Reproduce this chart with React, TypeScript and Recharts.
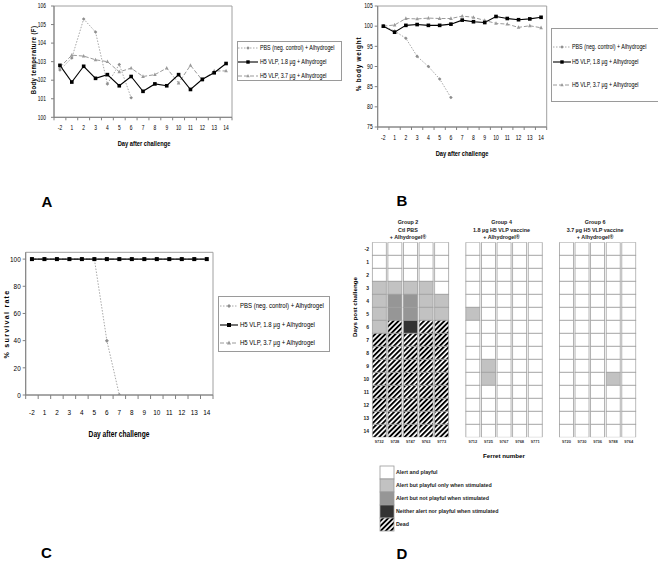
import { LineChart, Line, XAxis, YAxis, ReferenceArea, ScatterChart, Scatter } from "recharts"

const FONT = '"Liberation Sans", Arial, sans-serif'

// shared x categories
const days = ["-2", "1", "2", "3", "4", "5", "6", "7", "8", "9", "10", "11", "12", "13", "14"]

// A: body temperature (F)
const pbsTemperature = [102.55, 103.2, 105.3, 104.6, 101.8, 102.85, 101.05, null, null, null, null, null, null, null, null]
const lowDoseTemperature = [102.8, 101.9, 102.75, 102.1, 102.3, 101.7, 102.2, 101.4, 101.8, 101.7, 102.3, 101.5, 102.05, 102.4, 102.9]
const highDoseTemperature = [102.7, 103.35, 103.3, 103.1, 103.0, 102.45, 102.65, 102.2, 102.3, 102.65, 101.85, 102.8, 102.0, 102.5, 102.5]
const temperatureTicks = [100, 101, 102, 103, 104, 105, 106]

// B: % body weight
const pbsWeight = [100, 98.8, 97.0, 92.5, 90.0, 86.9, 82.3, null, null, null, null, null, null, null, null]
const lowDoseWeight = [100, 98.5, 100.2, 100.4, 100.2, 100.2, 100.5, 101.5, 101.1, 100.9, 102.4, 101.9, 101.6, 101.8, 102.2]
const highDoseWeight = [100, 100.3, 101.9, 101.8, 102.0, 101.9, 101.9, 102.5, 102.2, 101.4, 100.7, 100.5, 99.7, 100.1, 99.6]
const weightTicks = [75, 80, 85, 90, 95, 100, 105]

// C: % survival
const pbsSurvival = [100, 100, 100, 100, 100, 100, 40, 0, null, null, null, null, null, null, null]
const lowDoseSurvival = [100, 100, 100, 100, 100, 100, 100, 100, 100, 100, 100, 100, 100, 100, 100]
const highDoseSurvival = [100, 100, 100, 100, 100, 100, 100, 100, 100, 100, 100, 100, 100, 100, 100]
const survivalTicks = [0, 20, 40, 60, 80, 100]

// D: clinical score per ferret and day (0 alert/playful .. 3 neither, 4 dead)
const groupNames = ["Group 2", "Group 4", "Group 6"]
const groupTreatments = ["Ctl PBS", "1.8 µg H5 VLP vaccine", "3.7 µg H5 VLP vaccine"]
const group2Ferrets = ["9732", "9728", "9747", "9763", "9773"]
const group4Ferrets = ["9712", "9725", "9767", "9768", "9771"]
const group6Ferrets = ["9720", "9730", "9736", "9788", "9764"]
const group2Scores = [
  [0, 0, 0, 1, 1, 1, 1, 4, 4, 4, 4, 4, 4, 4, 4],
  [0, 0, 0, 1, 2, 2, 4, 4, 4, 4, 4, 4, 4, 4, 4],
  [0, 0, 0, 1, 2, 2, 3, 4, 4, 4, 4, 4, 4, 4, 4],
  [0, 0, 0, 1, 1, 1, 4, 4, 4, 4, 4, 4, 4, 4, 4],
  [0, 0, 0, 0, 1, 1, 4, 4, 4, 4, 4, 4, 4, 4, 4],
]
const group4Scores = [
  [0, 0, 0, 0, 0, 1, 0, 0, 0, 0, 0, 0, 0, 0, 0],
  [0, 0, 0, 0, 0, 0, 0, 0, 0, 1, 1, 0, 0, 0, 0],
  [0, 0, 0, 0, 0, 0, 0, 0, 0, 0, 0, 0, 0, 0, 0],
  [0, 0, 0, 0, 0, 0, 0, 0, 0, 0, 0, 0, 0, 0, 0],
  [0, 0, 0, 0, 0, 0, 0, 0, 0, 0, 0, 0, 0, 0, 0],
]
const group6Scores = [
  [0, 0, 0, 0, 0, 0, 0, 0, 0, 0, 0, 0, 0, 0, 0],
  [0, 0, 0, 0, 0, 0, 0, 0, 0, 0, 0, 0, 0, 0, 0],
  [0, 0, 0, 0, 0, 0, 0, 0, 0, 0, 0, 0, 0, 0, 0],
  [0, 0, 0, 0, 0, 0, 0, 0, 0, 0, 1, 0, 0, 0, 0],
  [0, 0, 0, 0, 0, 0, 0, 0, 0, 0, 0, 0, 0, 0, 0],
]
const scoreLabels = [
  "Alert and playful",
  "Alert but playful only when stimulated",
  "Alert but not playful when stimulated",
  "Neither alert nor playful when stimulated",
  "Dead",
]
const scoreFills = ["#ffffff", "#c2c2c2", "#969696", "#333333", "url(#deadHatch)"]

const seriesStyles = [
  { key: "pbs", name: "PBS (neg. control) + Alhydrogel", stroke: "#a8a8a8", dash: "1.5 1.5", width: 1, marker: "diamond", fill: "#8e8e8e" },
  { key: "low", name: "H5 VLP, 1.8 µg + Alhydrogel", stroke: "#000000", dash: undefined, width: 1.1, marker: "square", fill: "#000000" },
  { key: "high", name: "H5 VLP, 3.7 µg + Alhydrogel", stroke: "#9a9a9a", dash: "4 2", width: 1, marker: "triangle", fill: "#9a9a9a" },
]
const drawOrder = [0, 2, 1]

const makeRows = (pbs: (number | null)[], low: number[], high: number[]) =>
  days.map((day, i) => ({ i, day, pbs: pbs[i], low: low[i], high: high[i] }))

const temperatureRows = makeRows(pbsTemperature, lowDoseTemperature, highDoseTemperature)
const weightRows = makeRows(pbsWeight, lowDoseWeight, highDoseWeight)
const survivalRows = makeRows(pbsSurvival, lowDoseSurvival, highDoseSurvival)

// integer ticks carry labels, half ticks carry the between-category marks
const dayAxisTicks = [-0.5, ...days.flatMap((_, i) => [i, i + 0.5])]

function markerShape(kind: string, cx: number, cy: number, s: number, fill: string) {
  if (kind === "square") return <rect x={cx - s / 2} y={cy - s / 2} width={s} height={s} fill={fill} />
  if (kind === "triangle")
    return <polygon points={`${cx},${cy - s * 0.6} ${cx - s / 2},${cy + s * 0.4} ${cx + s / 2},${cy + s * 0.4}`} fill={fill} />
  return <polygon points={`${cx},${cy - s / 2} ${cx + s / 2},${cy} ${cx},${cy + s / 2} ${cx - s / 2},${cy}`} fill={fill} />
}

function Label({ x, y, text, size, bold, rotate, spacing, squeeze = 1, color = "#000" }: any) {
  return (
    <div
      style={{
        position: "absolute",
        left: x,
        top: y,
        transform: `translate(-50%, -50%)${rotate ? " rotate(-90deg)" : ""} scaleX(${squeeze})`,
        fontSize: size,
        fontWeight: bold ? 700 : 400,
        letterSpacing: spacing,
        whiteSpace: "nowrap",
        lineHeight: 1,
        color,
      }}
    >
      {text}
    </div>
  )
}

function LinePanel({ rows, left, top, width, height, plot, yDomain, yTicks, fontSize, markerSize, labelGap, yTickMargin, markLength, squeeze }: any) {
  const xAxisHeight = 20
  const margin = {
    top: plot.y0 - top,
    right: left + width - plot.x1,
    left: 0,
    bottom: top + height - plot.y1 - xAxisHeight,
  }
  const dayTick = (p: any) => {
    const v = p.payload.value
    if (!Number.isInteger(v)) {
      return <line key={`m${v}`} x1={p.x} x2={p.x} y1={p.y} y2={p.y + markLength} stroke="#808080" strokeWidth={1} />
    }
    return (
      <text
        key={`t${v}`}
        x={0}
        y={0}
        transform={`translate(${p.x},${p.y + labelGap}) scale(${squeeze},1)`}
        textAnchor="middle"
        dominantBaseline="central"
        fontSize={fontSize}
        fill="#000"
      >
        {days[v]}
      </text>
    )
  }
  const valueTick = (p: any) => (
    <text
      key={`v${p.payload.value}`}
      x={0}
      y={0}
      transform={`translate(${p.x},${p.y}) scale(${squeeze},1)`}
      textAnchor="end"
      dominantBaseline="central"
      fontSize={fontSize}
      fill="#000"
    >
      {p.payload.value}
    </text>
  )
  return (
    <div style={{ position: "absolute", left, top, width, height }}>
      <LineChart width={width} height={height} data={rows} margin={margin}>
        <ReferenceArea x1={-0.5} x2={14.5} y1={yDomain[0]} y2={yDomain[1]} fill="#fff" fillOpacity={0} stroke="#a0a0a0" strokeWidth={1} />
        <XAxis
          type="number"
          dataKey="i"
          domain={[-0.5, 14.5]}
          ticks={dayAxisTicks}
          interval={0}
          height={xAxisHeight}
          axisLine={{ stroke: "#808080" }}
          tickLine={false}
          tickSize={0}
          tickMargin={0}
          tick={dayTick}
          allowDataOverflow
        />
        <YAxis
          type="number"
          domain={yDomain}
          ticks={yTicks}
          interval={0}
          width={plot.x0 - left}
          axisLine={{ stroke: "#808080" }}
          tickLine={{ stroke: "#808080" }}
          tickSize={3}
          tickMargin={yTickMargin}
          tick={valueTick}
          allowDataOverflow
        />
        {drawOrder.map((k) => {
          const s = seriesStyles[k]
          return (
            <Line
              key={s.key}
              dataKey={s.key}
              stroke={s.stroke}
              strokeWidth={s.width}
              strokeDasharray={s.dash}
              isAnimationActive={false}
              dot={(p: any) => (
                <g key={`${s.key}-${p.index}`}>
                  {p.cx == null || p.cy == null || p.payload[s.key] == null ? null : markerShape(s.marker, p.cx, p.cy, markerSize, s.fill)}
                </g>
              )}
              activeDot={false}
            />
          )
        })}
      </LineChart>
    </div>
  )
}

function SeriesLegend({ left, top, width, height, rowYs, fontSize, sampleX0, sampleX1, textX, markerSize, squeeze }: any) {
  const w = sampleX1 - sampleX0
  return (
    <>
      <div style={{ position: "absolute", left, top, width, height, border: "1px solid #9a9a9a", boxSizing: "border-box", background: "#fff" }} />
      {seriesStyles.map((s, k) => (
        <div key={s.key}>
          <svg style={{ position: "absolute", left: sampleX0, top: rowYs[k] - 5 }} width={w} height={10}>
            <line x1={0} x2={w} y1={5} y2={5} stroke={s.stroke} strokeDasharray={s.dash} strokeWidth={s.width} />
            {markerShape(s.marker, w / 2, 5, markerSize, s.fill)}
          </svg>
          <span
            style={{
              position: "absolute",
              left: textX,
              top: rowYs[k],
              transform: `translateY(-50%) scaleX(${squeeze})`,
              transformOrigin: "left center",
              fontSize,
              lineHeight: 1,
              whiteSpace: "nowrap",
            }}
          >
            {s.name}
          </span>
        </div>
      ))}
    </>
  )
}

const groups = [
  { ferrets: group2Ferrets, scores: group2Scores },
  { ferrets: group4Ferrets, scores: group4Scores },
  { ferrets: group6Ferrets, scores: group6Scores },
]
const ferretSlots = groups.flatMap((grp, g) => grp.ferrets.map((id, c) => ({ slot: g * 6 + c, id })))
const heatCells = groups.flatMap((grp, g) =>
  grp.ferrets.flatMap((id, c) => grp.scores[c].map((score, row) => ({ col: g * 6 + c, row, score, id })))
)

function HeatCell(p: any) {
  if (p.cx == null || p.cy == null) return <g />
  return <rect x={p.cx - 7} y={p.cy - 6.5} width={14} height={13} fill={scoreFills[p.payload.score]} stroke="#a0a0a0" strokeWidth={0.8} />
}

const scorePlot = { x0: 371.5, x1: 636.6, y0: 242.3, y1: 437.3 }

function ScorePanel() {
  const left = 340
  const top = 200
  const width = 300
  const height = 262
  const plot = scorePlot
  const bottomAxisHeight = 12
  const margin = { top: plot.y0 - top, right: left + width - plot.x1, left: 0, bottom: top + height - plot.y1 - bottomAxisHeight }
  return (
    <div style={{ position: "absolute", left, top, width, height }}>
      <ScatterChart width={width} height={height} margin={margin}>
        <XAxis
          type="number"
          dataKey="col"
          domain={[-0.5, 16.5]}
          ticks={ferretSlots.map((f) => f.slot)}
          interval={0}
          height={bottomAxisHeight}
          axisLine={false}
          tickLine={false}
          tickSize={0}
          tickMargin={3}
          tickFormatter={(v: number) => ferretSlots.find((f) => f.slot === v)?.id ?? ""}
          tick={{ fontSize: 4, fontWeight: 700, fill: "#333" }}
          allowDataOverflow
        />
        <YAxis
          type="number"
          dataKey="row"
          domain={[-0.5, 14.5]}
          reversed
          ticks={days.map((_, i) => i)}
          interval={0}
          width={plot.x0 - left}
          axisLine={false}
          tickLine={false}
          tickSize={0}
          tickMargin={2.5}
          tickFormatter={(v: number) => days[v]}
          tick={{ fontSize: 5, fontWeight: 700, fill: "#222" }}
          allowDataOverflow
        />
        <Scatter data={heatCells} shape={HeatCell} isAnimationActive={false} />
      </ScatterChart>
    </div>
  )
}

function GroupTitles() {
  const pitch = (scorePlot.x1 - scorePlot.x0) / 17
  return (
    <>
      {groupNames.map((name, g) => {
        const cx = scorePlot.x0 + (g * 6 + 2.5) * pitch - 2.5
        return (
          <div key={name}>
            <Label x={cx} y={223.3} text={name} size={5.4} bold color="#222" />
            <Label x={cx} y={230.8} text={groupTreatments[g]} size={5.4} bold color="#222" />
            <Label x={cx} y={238.3} text="+ Alhydrogel®" size={5.4} bold color="#222" />
          </div>
        )
      })}
    </>
  )
}

function ScoreLegend() {
  const x = 380
  const y = 466
  const h = 13
  return (
    <>
      <svg style={{ position: "absolute", left: x - 1, top: y - 1 }} width={16} height={h * 5 + 2}>
        {scoreFills.map((f, k) => (
          <rect key={k} x={1} y={1 + k * h} width={14} height={h} fill={f} stroke="#999" strokeWidth={0.8} />
        ))}
      </svg>
      {scoreLabels.map((t, k) => (
        <span
          key={t}
          style={{
            position: "absolute",
            left: x + 16,
            top: y + h * k + h / 2,
            transform: "translateY(-50%)",
            fontSize: 5.3,
            fontWeight: 700,
            lineHeight: 1,
            whiteSpace: "nowrap",
            color: "#222",
          }}
        >
          {t}
        </span>
      ))}
    </>
  )
}

export default function App() {
  return (
    <div
      style={{
        position: "absolute",
        left: 0,
        top: 0,
        width: 658,
        height: 561,
        overflow: "hidden",
        background: "#fff",
        fontFamily: FONT,
        color: "#000",
      }}
    >
      <svg width={0} height={0} style={{ position: "absolute" }}>
        <defs>
          <pattern id="deadHatch" patternUnits="userSpaceOnUse" width={3.6} height={3.6} patternTransform="rotate(45)">
            <rect width={3.6} height={3.6} fill="#fff" />
            <rect width={1.9} height={3.6} fill="#000" />
          </pattern>
        </defs>
      </svg>

      {/* A */}
      <LinePanel
        rows={temperatureRows}
        left={0}
        top={0}
        width={240}
        height={150}
        plot={{ x0: 54, x1: 232, y0: 6, y1: 117.3 }}
        yDomain={[100, 106]}
        yTicks={temperatureTicks}
        fontSize={6.5}
        markerSize={3.6}
        labelGap={10.7}
        yTickMargin={5}
        markLength={3}
        squeeze={0.75}
      />
      <Label x={32.5} y={59.5} text="Body temperature (F)" size={7} bold rotate spacing={0.5} squeeze={0.85} />
      <Label x={143.7} y={144} text="Day after challenge" size={7.2} bold squeeze={0.8} />
      <SeriesLegend left={237} top={41} width={105} height={40} rowYs={[47.7, 62, 76]} fontSize={6.5} sampleX0={238} sampleX1={258} textX={260} markerSize={3.4} squeeze={0.82} />
      <Label x={47} y={200.5} text="A" size={15} bold />

      {/* B */}
      <LinePanel
        rows={weightRows}
        left={340}
        top={0}
        width={210}
        height={160}
        plot={{ x0: 377.7, x1: 546.7, y0: 6, y1: 127 }}
        yDomain={[75, 105]}
        yTicks={weightTicks}
        fontSize={6.5}
        markerSize={3.6}
        labelGap={11}
        yTickMargin={2}
        markLength={3}
        squeeze={0.78}
      />
      <Label x={358} y={64} text="% body weight" size={7} bold rotate spacing={0.9} squeeze={0.9} />
      <Label x={462} y={154.3} text="Day after challenge" size={7.2} bold squeeze={0.8} />
      <SeriesLegend left={551} top={28} width={120} height={74} rowYs={[46.7, 62.3, 84.7]} fontSize={6.5} sampleX0={553} sampleX1={571} textX={572} markerSize={3.4} squeeze={0.82} />
      <Label x={402} y={199.5} text="B" size={15} bold />

      {/* C */}
      <LinePanel
        rows={survivalRows}
        left={0}
        top={240}
        width={220}
        height={200}
        plot={{ x0: 25.7, x1: 213, y0: 252.3, y1: 395 }}
        yDomain={[0, 105]}
        yTicks={survivalTicks}
        fontSize={8}
        markerSize={4}
        labelGap={17.7}
        yTickMargin={2}
        markLength={4}
        squeeze={0.8}
      />
      <Label x={7} y={324} text="% survival rate" size={7.5} bold rotate spacing={1.3} squeeze={0.95} />
      <Label x={119} y={434} text="Day after challenge" size={8.5} bold squeeze={0.78} />
      <SeriesLegend left={218} top={296} width={112} height={56} rowYs={[306, 325, 343]} fontSize={7.5} sampleX0={220} sampleX1={238} textX={240} markerSize={4} squeeze={0.8} />
      <Label x={46.5} y={552} text="C" size={15} bold />

      {/* D */}
      <GroupTitles />
      <ScorePanel />
      <Label x={355} y={307} text="Days post challenge" size={6.2} bold rotate />
      <Label x={504} y={455.7} text="Ferret number" size={6.2} bold />
      <ScoreLegend />
      <Label x={402} y={552.5} text="D" size={15} bold />
    </div>
  )
}
